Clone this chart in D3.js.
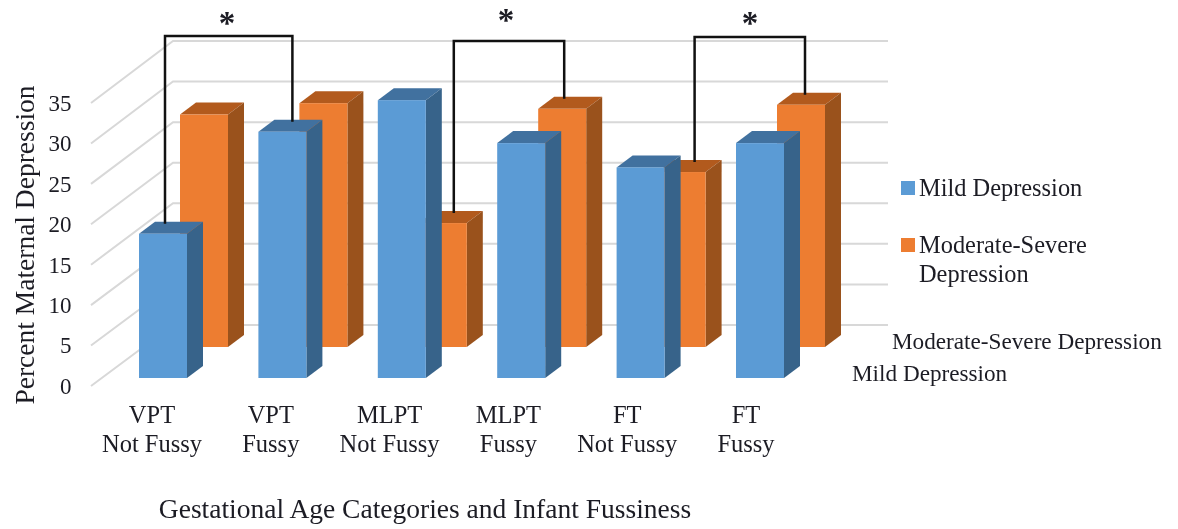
<!DOCTYPE html>
<html lang="en">
<head>
    <meta charset="UTF-8">
    <title>Percent Maternal Depression</title>
    <script src="https://d3js.org/d3.v7.min.js"></script>
    <style>
        html, body { margin: 0; padding: 0; background: #fff; }
        svg { display: block; filter: blur(0.45px); }
        text { font-family: "Liberation Serif", serif; fill: #1c1c24; }
    </style>
</head>
<body>
    <div id="container"></div>
    <script>
        // Data
        const categories = ["VPT|Not Fussy", "VPT|Fussy", "MLPT|Not Fussy", "MLPT|Fussy", "FT|Not Fussy", "FT|Fussy"];
        const mild = [17.8, 30.4, 34.3, 29, 26, 29];
        const moderateSevere = [28.7, 30.1, 15.3, 29.4, 21.6, 29.9];
        const yTicks = [0, 5, 10, 15, 20, 25, 30, 35];
        // category/series pairs joined by the significance brackets
        const brackets = [
            { from: [0, "mild"], to: [1, "mild"] },
            { from: [2, "mod"], to: [3, "mod"] },
            { from: [4, "mod"], to: [5, "mod"] }
        ];

        const width = 1178;
        const height = 529;

        const svg = d3.select("#container")
                      .append("svg")
                      .attr("width", width)
                      .attr("height", height);

        // Scales: front of the floor, back wall, and bar height
        const yFront = d3.scaleLinear().domain([0, 35]).range([386, 103]);
        const yBack = d3.scaleLinear().domain([0, 35]).range([325, 41]);
        const barHeight = d3.scaleLinear().domain([0, 35]).range([0, 283.5]);
        const x = d3.scaleBand().domain(categories).range([139, 139 + 119.4 * 6]);
        const xLabel = d3.scalePoint().domain(categories).range([152, 746]);

        const barW = 48;
        const depthX = 16;
        const depthY = 12;
        const wallLeft = 91;
        const wallBack = 173;
        const wallRight = 888;

        const series = {
            mild: { values: mild, dx: 0, base: 378, front: "#5b9bd5", side: "#37638a", top: "#41719f" },
            mod: { values: moderateSevere, dx: 41, base: 347, front: "#ed7d31", side: "#9a521c", top: "#b25a1d" }
        };

        // Grid
        svg.append("g")
           .attr("stroke", "#d8d8d8")
           .attr("stroke-width", 2)
           .attr("fill", "none")
           .selectAll("path")
           .data(yTicks)
           .join("path")
           .attr("d", d => `M${wallLeft},${yFront(d)}L${wallBack},${yBack(d)}H${wallRight}`);

        // Axis
        svg.append("g")
           .attr("transform", "translate(71.5,0)")
           .call(d3.axisLeft(yFront).tickValues(yTicks).tickSize(0).tickPadding(0))
           .call(g => g.select(".domain").remove())
           .call(g => g.selectAll("text").attr("font-size", 23).attr("font-family", "Liberation Serif"));

        // Bars: orange row behind, blue row in front
        function drawBars(s) {
            const g = svg.append("g");
            const left = (d, i) => x(categories[i]) + s.dx;
            const topY = d => s.base - barHeight(d);
            g.selectAll(".top")
             .data(s.values)
             .join("path")
             .attr("class", "top")
             .attr("fill", s.top)
             .attr("d", (d, i) => `M${left(d, i)},${topY(d)}l${depthX},${-depthY}h${barW}l${-depthX},${depthY}z`);
            g.selectAll(".side")
             .data(s.values)
             .join("path")
             .attr("class", "side")
             .attr("fill", s.side)
             .attr("d", (d, i) => `M${left(d, i) + barW},${topY(d)}l${depthX},${-depthY}V${s.base - depthY}l${-depthX},${depthY}z`);
            g.selectAll(".front")
             .data(s.values)
             .join("rect")
             .attr("class", "front")
             .attr("fill", s.front)
             .attr("x", left)
             .attr("y", topY)
             .attr("width", barW)
             .attr("height", d => barHeight(d));
        }
        drawBars(series.mod);
        drawBars(series.mild);

        // Significance brackets, anchored on the top face of each bar
        const bracketStyle = [
            { top: 36, leftNudge: 2, rightNudge: 10, starX: 227, starY: 34 },
            { top: 41, leftNudge: 11, rightNudge: 2, starX: 506, starY: 31 },
            { top: 37, leftNudge: 13, rightNudge: 4, starX: 750, starY: 33.5 }
        ];
        const anchor = ([c, k], nudge) => {
            const s = series[k];
            return {
                x: x(categories[c]) + s.dx + barW / 2 + nudge,
                y: s.base - barHeight(s.values[c]) - 10
            };
        };
        brackets.forEach((b, i) => {
            const st = bracketStyle[i];
            const a = anchor(b.from, st.leftNudge);
            const c = anchor(b.to, st.rightNudge);
            svg.append("path")
               .attr("fill", "none")
               .attr("stroke", "#111")
               .attr("stroke-width", 2.5)
               .attr("d", `M${a.x},${a.y}V${st.top}H${c.x}V${c.y}`);
            svg.append("text")
               .attr("x", st.starX)
               .attr("y", st.starY)
               .attr("text-anchor", "middle")
               .attr("font-size", 33)
               .attr("font-weight", "bold")
               .text("*");
        });

        // Category labels
        const catLabel = svg.append("g")
                            .attr("font-size", 24.5)
                            .attr("text-anchor", "middle");
        categories.forEach(c => {
            c.split("|").forEach((t, j) => {
                catLabel.append("text")
                        .attr("x", xLabel(c))
                        .attr("y", 423 + j * 29)
                        .text(t);
            });
        });

        // Titles
        svg.append("text")
           .attr("transform", "translate(34,245) rotate(-90)")
           .attr("text-anchor", "middle")
           .attr("font-size", 27.5)
           .text("Percent Maternal Depression");
        svg.append("text")
           .attr("x", 425)
           .attr("y", 518)
           .attr("text-anchor", "middle")
           .attr("font-size", 27.5)
           .text("Gestational Age Categories and Infant Fussiness");

        // Legend
        const legend = svg.append("g").attr("font-size", 24.4);
        legend.append("rect").attr("x", 901).attr("y", 181).attr("width", 14).attr("height", 14).attr("fill", series.mild.front);
        legend.append("text").attr("x", 919).attr("y", 196).text("Mild Depression");
        legend.append("rect").attr("x", 901).attr("y", 238).attr("width", 14).attr("height", 14).attr("fill", series.mod.front);
        legend.append("text").attr("x", 919).attr("y", 253).text("Moderate-Severe");
        legend.append("text").attr("x", 919).attr("y", 282).text("Depression");

        // Depth axis labels
        const depth = svg.append("g").attr("font-size", 23.2);
        depth.append("text").attr("x", 892).attr("y", 349).text("Moderate-Severe Depression");
        depth.append("text").attr("x", 852).attr("y", 381).text("Mild Depression");
    </script>
</body>
</html>
